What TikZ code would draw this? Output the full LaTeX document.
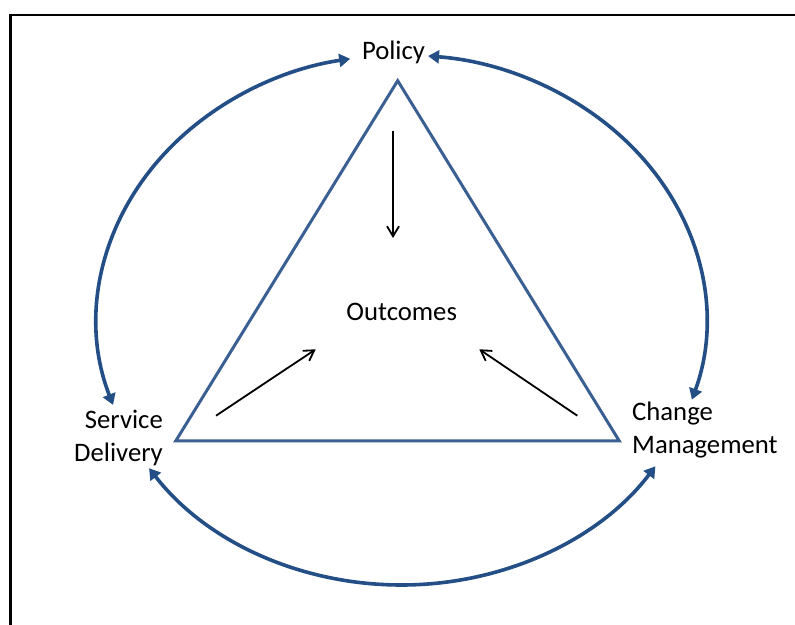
\documentclass[tikz,border=0pt]{standalone}
\usepackage{fontspec}
\setmainfont{Carlito}
\usetikzlibrary{arrows.meta,calc}
\definecolor{cyclecol}{RGB}{35,78,134}
\definecolor{tricol}{RGB}{58,95,146}
\begin{document}
\begin{tikzpicture}[x=1pt,y=1pt,
  lbl/.style={inner sep=0pt, font=\fontsize{26.7}{32.8}\selectfont},
  cyclearc/.style={draw=cyclecol, line width=3.6pt,
    {Triangle[length=11pt,width=13pt]}-{Triangle[length=11pt,width=13pt]}},
  tri/.style={draw=tricol, line width=3pt, line join=miter},
  flow/.style={draw=black, line width=1.8pt, -{Straight Barb[length=10pt,width=12pt]}}]
\useasboundingbox (0,0) rectangle (795,624);
\clip (0,0) rectangle (795,624);

% frame (left and top edges)
\draw[line width=2.6pt] (10.3,-20) -- (10.3,609) -- (820,609);

% labels (base anchor of a two-line label sits on its last line)
\node[lbl, anchor=base] (policy) at (393.5,564.7) {Policy};
\node[lbl, anchor=base] (outcomes) at (401.7,303) {Outcomes};
\node[lbl, align=right, anchor=base east] (sd) at (163,162.5) {Service\\Delivery};
\node[lbl, align=left, anchor=base west] (cm) at (632,170.7) {Change\\Management};

% triangle
\coordinate (apex) at (397.7,543.3);
\coordinate (bl) at (175.7,183);
\coordinate (br) at (619.3,183);
\draw[tri] (apex) -- (bl) -- (br) -- cycle;

% arrows towards the outcomes
\coordinate (pIn) at (393,493);   \coordinate (pOut) at (393,386);
\coordinate (sIn) at (216,208.3); \coordinate (sOut) at (315.7,274.7);
\coordinate (cIn) at (577.3,208.3); \coordinate (cOut) at (479.3,274.7);
\draw[flow] (pIn) -- (pOut);
\draw[flow] (sIn) -- (sOut);
\draw[flow] (cIn) -- (cOut);

% outer cycle: three arcs of one ellipse
\coordinate (c) at (401.5,304);
\coordinate (sdT) at ($(c)+(198.7:304.5 and 265)$);
\coordinate (cmT) at ($(c)+(-17.5:304.5 and 265)$);
\coordinate (sdB) at ($(c)+(214:304.5 and 265)$);
\draw[cyclearc] (sdT) arc[start angle=198.7, end angle=99.7, x radius=304.5, y radius=265];
\draw[cyclearc] (cmT) arc[start angle=-17.5, end angle=85, x radius=304.5, y radius=265];
\draw[cyclearc] (sdB) arc[start angle=214, end angle=326.5, x radius=304.5, y radius=265];
\end{tikzpicture}
\end{document}
